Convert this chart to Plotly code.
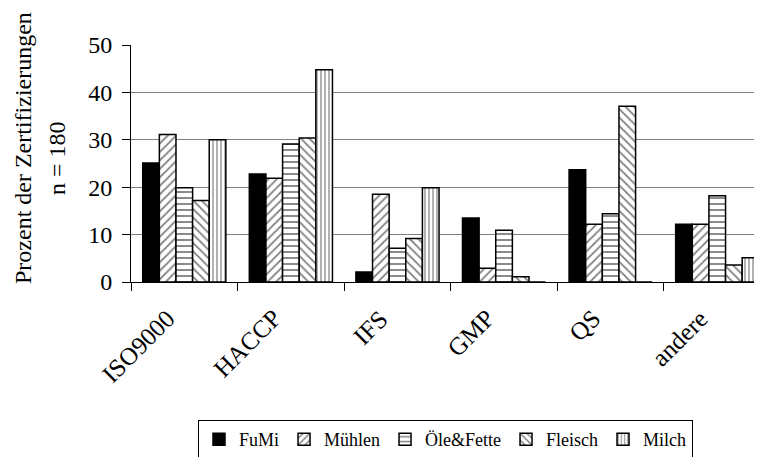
import plotly.graph_objects as go

categories = ["ISO9000", "HACCP", "IFS", "GMP", "QS", "andere"]
series_names = ["FuMi", "Mühlen", "Öle&Fette", "Fleisch", "Milch"]
fumi = [25.1, 22.8, 2.1, 13.5, 23.7, 12.2]
muehlen = [31.1, 21.9, 18.5, 2.9, 12.2, 12.2]
oele_fette = [19.9, 29.1, 7.1, 10.9, 14.4, 18.2]
fleisch = [17.2, 30.4, 9.2, 1.1, 37.1, 3.6]
milch = [30.0, 44.8, 19.9, 0, 0, 5.1]
y_ticks = [0, 10, 20, 30, 40, 50]

series_values = [fumi, muehlen, oele_fette, fleisch, milch]
patterns = ["", "/", "-", "\\", "|"]
pattern_sizes = [6, 6, 6, 6, 4]
fills = ["black", "white", "white", "white", "white"]

FONT = "Liberation Serif"
# page body has an 8px margin: figure coords = screen coords - 8
L, T, B, R = 123, 37, 274, 754
PW, PH = R - L, B - T

fig = go.Figure()
for name, vals, shp, sz, fc in zip(series_names, series_values, patterns, pattern_sizes, fills):
    fig.add_trace(go.Bar(
        x=categories, y=vals, name=name,
        marker=dict(color=fc, line=dict(color="black", width=1.5),
                    pattern=dict(shape=shp, fgcolor="black", bgcolor="white",
                                 size=sz, solidity=0.3, fillmode="overlay")),
    ))

fig.update_layout(
    width=762, height=457,
    margin=dict(l=L, r=762 - R, t=T, b=457 - B, pad=0, autoexpand=False),
    paper_bgcolor="white", plot_bgcolor="white",
    barmode="group", bargap=0.22, bargroupgap=0,
    font=dict(family=FONT, size=24, color="black"),
    showlegend=True,
    legend=dict(orientation="h", x=(190 - L) / PW, xanchor="left",
                y=(B - 412) / PH, yanchor="top",
                bordercolor="black", borderwidth=1, bgcolor="white",
                font=dict(family=FONT, size=18, color="black")),
    xaxis=dict(type="category", range=[-0.5, 5.42], tickson="boundaries",
               ticks="outside", ticklen=8, tickcolor="black", tickwidth=1,
               showline=True, linecolor="black", linewidth=1, automargin=False,
               showticklabels=False, showgrid=False, zeroline=False),
    yaxis=dict(range=[0, 50], tickvals=y_ticks, ticks="outside", ticklen=8,
               tickcolor="black", showline=True, linecolor="black", linewidth=1,
               showgrid=True, gridcolor="#808080", gridwidth=1, zeroline=False,
               automargin=False,
               ticklabelstandoff=5, tickfont=dict(family=FONT, size=24)),
)

for cat in categories:
    fig.add_annotation(text=cat, textangle=-45, xref="x", yref="paper",
                       x=cat, y=0, xanchor="right", yanchor="top",
                       xshift=-2, yshift=-20, showarrow=False,
                       font=dict(family=FONT, size=25))

fig.add_annotation(text="Prozent der Zertifizierungen", textangle=-90,
                   xref="paper", yref="paper", x=(15 - L) / PW, y=(B - 140) / PH,
                   xanchor="center", yanchor="middle", showarrow=False,
                   font=dict(family=FONT, size=24))
fig.add_annotation(text="n = 180", textangle=-90,
                   xref="paper", yref="paper", x=(49 - L) / PW, y=(B - 150) / PH,
                   xanchor="center", yanchor="middle", showarrow=False,
                   font=dict(family=FONT, size=24))

fig.write_html("out.html")
